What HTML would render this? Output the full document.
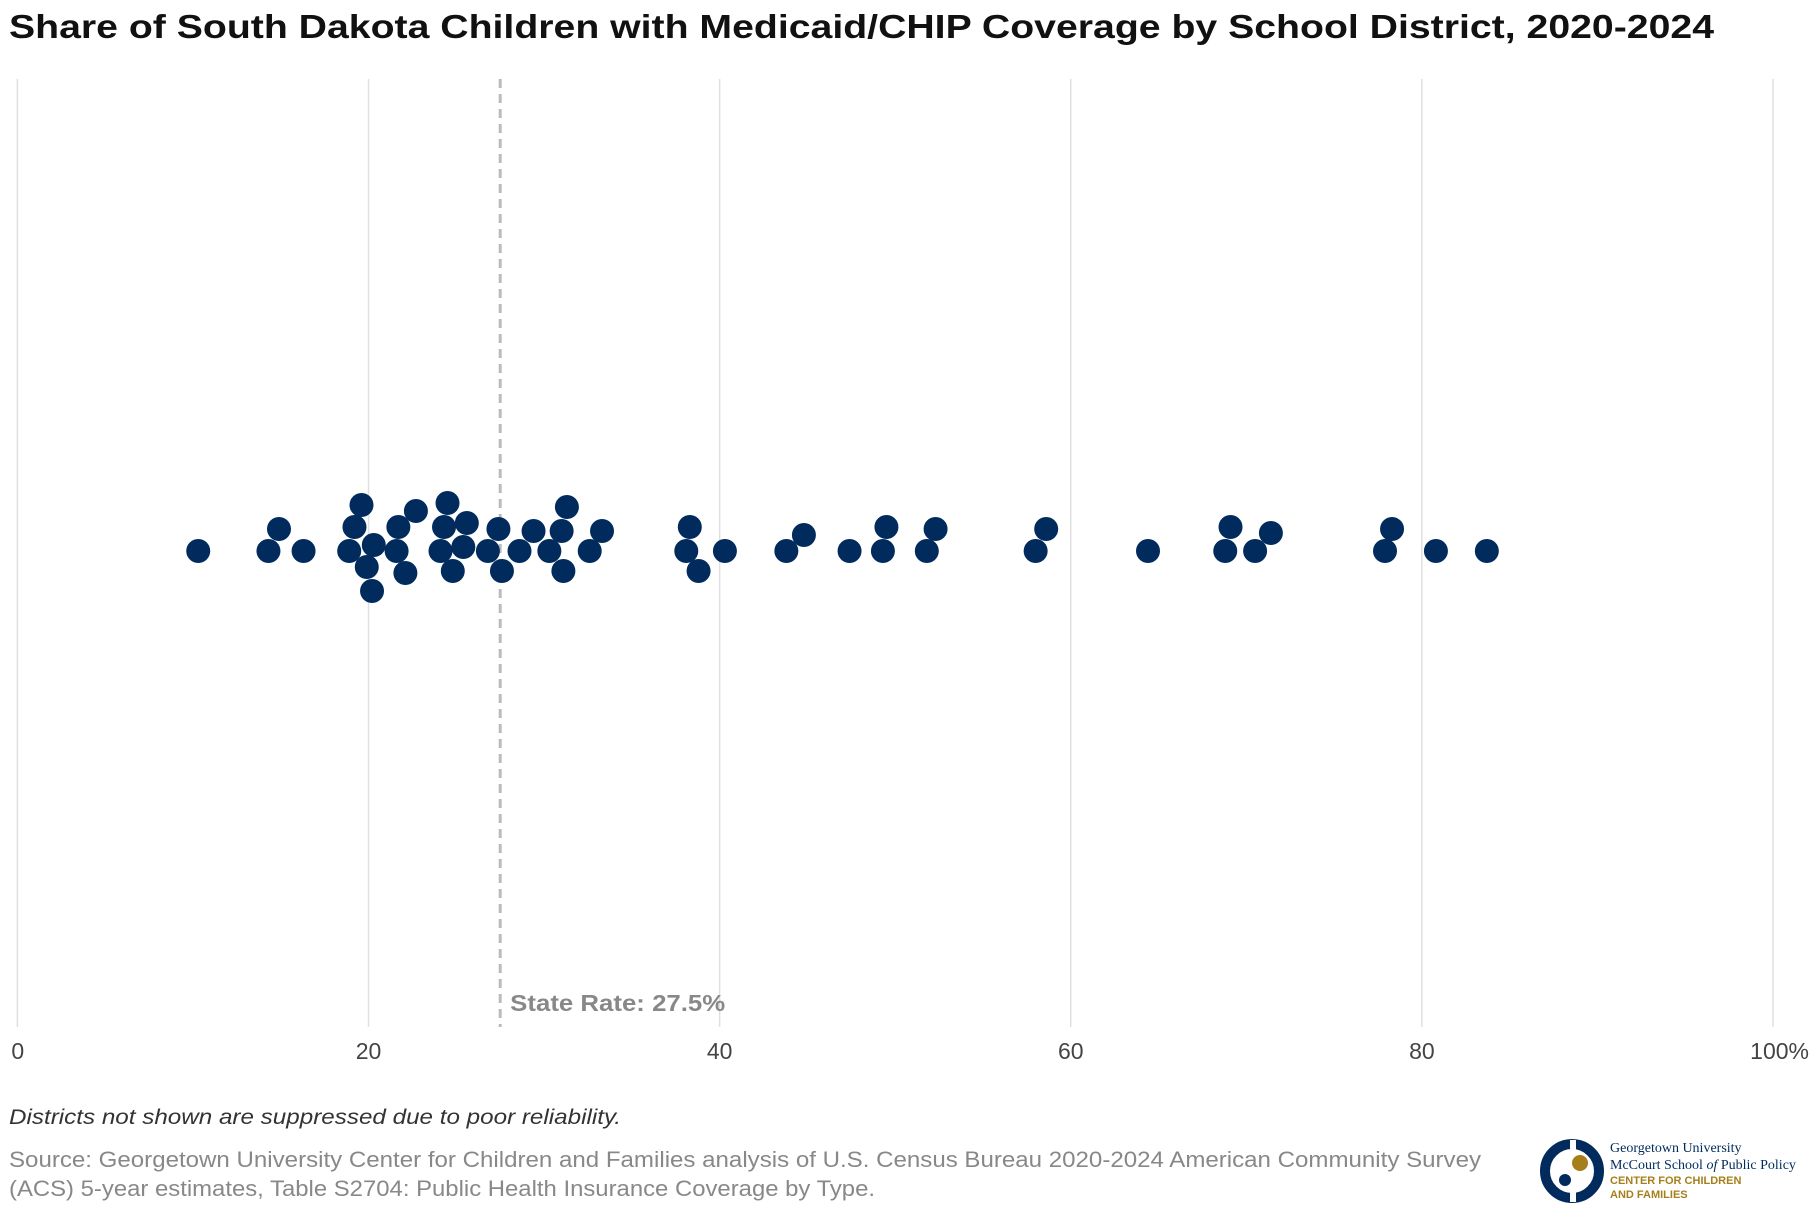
<!DOCTYPE html>
<html><head><meta charset="utf-8"><style>
body{margin:0;background:#fff;font-family:"Liberation Sans",sans-serif;}
#wrap{position:relative;width:1820px;height:1220px;overflow:hidden;}
</style></head><body>
<div id="wrap">
<svg id="svg" width="1820" height="1220" xmlns="http://www.w3.org/2000/svg">
<text x="9" y="38" font-size="33" font-weight="bold" fill="#111" textLength="1705" lengthAdjust="spacingAndGlyphs">Share of South Dakota Children with Medicaid/CHIP Coverage by School District, 2020-2024</text>
<g id="grid"></g>
<g id="dots"></g>
<g id="ticks"></g>
<text x="9" y="1124" font-size="21" font-style="italic" fill="#333" textLength="612" lengthAdjust="spacingAndGlyphs">Districts not shown are suppressed due to poor reliability.</text>
<text x="9" y="1167" font-size="22" fill="#888" textLength="1472" lengthAdjust="spacingAndGlyphs">Source: Georgetown University Center for Children and Families analysis of U.S. Census Bureau 2020-2024 American Community Survey</text>
<text x="9" y="1196" font-size="22" fill="#888" textLength="866" lengthAdjust="spacingAndGlyphs">(ACS) 5-year estimates, Table S2704: Public Health Insurance Coverage by Type.</text>
<g>
<circle cx="1572" cy="1171" r="27" fill="none" stroke="#002b5c" stroke-width="10"/>
<rect x="1570" y="1140" width="6" height="62" fill="#fff"/>
<circle cx="1580" cy="1163" r="8" fill="#a67f1a"/>
<circle cx="1565" cy="1180" r="6" fill="#002b5c"/>
<text x="1610" y="1152" font-family="Liberation Serif,serif" font-size="14" fill="#002b5c">Georgetown University</text>
<text x="1610" y="1169" font-family="Liberation Serif,serif" font-size="14" fill="#002b5c">McCourt School <tspan font-style="italic">of</tspan> Public Policy</text>
<text x="1610" y="1184" font-size="11" font-weight="bold" fill="#a67f1a">CENTER FOR CHILDREN</text>
<text x="1610" y="1198" font-size="11" font-weight="bold" fill="#a67f1a">AND FAMILIES</text>
</g>
</svg>
</div>
<script>
const values=[10.3,14.3,14.9,16.3,18.9,19.2,19.9,19.6,20.3,20.2,21.6,21.7,22.1,22.7,24.1,24.3,24.8,24.5,25.4,25.6,26.8,27.4,27.6,28.6,29.4,30.3,31.0,31.1,31.3,32.6,33.3,38.1,38.3,38.8,40.3,43.8,44.8,47.4,49.3,49.5,51.8,52.3,58.0,58.6,64.4,68.8,69.1,70.5,71.4,77.9,78.3,80.8,83.7];
const tickValues=[0,20,40,60,80,100];
const tickLabels=["0","20","40","60","80","100%"];
const stateRate=27.5;
const NS="http://www.w3.org/2000/svg";
const X0=17.4,X1=1773,Y0=79,Y1=1027,BASE=551,R=12;
function xs(v){return X0+(X1-X0)*v/100;}
function mk(t,a,p){const e=document.createElementNS(NS,t);for(const k in a)e.setAttribute(k,a[k]);p.appendChild(e);return e;}
const grid=document.getElementById('grid'),ticks=document.getElementById('ticks'),dots=document.getElementById('dots');
tickValues.forEach((v,i)=>{
  const l=mk('line',{x1:xs(v),x2:xs(v),y1:Y0,y2:Y1,stroke:'#e0e0e0','stroke-width':1.5},grid);
  
  
  const t=mk('text',{x:xs(v),y:1059,'font-size':23,fill:'#444','text-anchor':i==0?'start':(i==tickValues.length-1?'end':'middle')},ticks);
  if(i==0)t.setAttribute('x',xs(v)-6);
  if(i==tickValues.length-1)t.setAttribute('x',xs(v)+36);
  t.textContent=tickLabels[i];
  
  
});
const sl=mk('line',{x1:xs(stateRate),x2:xs(stateRate),y1:Y0,y2:Y1,stroke:'#bbb','stroke-width':3,'stroke-dasharray':'9,6'},grid);


const st=mk('text',{x:xs(stateRate)+10,y:1011,'font-size':23,'font-weight':'bold',fill:'#888',textLength:215,lengthAdjust:'spacingAndGlyphs'},grid);
st.textContent='State Rate: '+stateRate+'%';


// beeswarm layout with upward bias
const placed=[];
const cands=[0];for(let k=1;k<60;k++){cands.push(-k*2,k*2);}
cands.sort((a,b)=>(a<0?-a:a*1.5)-(b<0?-b:b*1.5));
values.forEach(v=>{
  const x=xs(v);let best=0;
  for(const dy of cands){
    if(placed.every(p=>(p.x-x)**2+(p.y-dy)**2>=(2*R-1)**2)){best=dy;break;}
  }
  placed.push({x:x,y:best});
  const c=mk('circle',{cx:x,cy:BASE+best,r:R,fill:'#002b5c'},dots);
  
  
});
</script>
</body></html>
